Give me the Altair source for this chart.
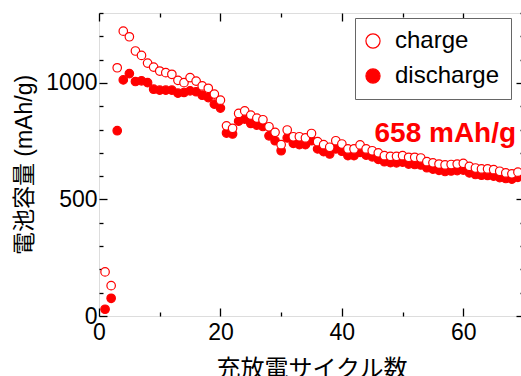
import altair as alt
import pandas as pd

cycles = list(range(1, 70))
charge = [189, 130, 1065, 1222, 1198, 1137, 1118, 1085, 1068, 1051,
          1044, 1037, 1011, 1001, 1023, 1008, 987, 977, 952, 926,
          816, 805, 869, 880, 862, 849, 842, 812, 788, 735,
          798, 769, 769, 764, 783, 748, 735, 724, 752, 738,
          717, 717, 734, 717, 709, 700, 688, 685, 685, 688,
          681, 681, 678, 662, 657, 652, 648, 650, 652, 655,
          642, 635, 631, 631, 628, 621, 614, 610, 617]
discharge = [29, 76, 795, 1013, 1040, 1006, 1009, 1001, 973, 969,
             969, 969, 956, 959, 966, 962, 947, 937, 909, 892,
             785, 781, 836, 845, 826, 819, 813, 773, 752, 709,
             764, 741, 735, 735, 752, 717, 705, 695, 717, 707,
             688, 688, 702, 690, 683, 672, 662, 658, 657, 660,
             652, 650, 648, 636, 630, 625, 620, 622, 624, 626,
             614, 607, 604, 603, 600, 594, 590, 587, 595]
series_names = ["charge", "discharge"]
x_ticks = list(range(0, 71, 10))
y_ticks = list(range(0, 1301, 100))
annotation_text = ["658 mAh/g"]
annotation_cycle = [68.7]
annotation_capacity = [782]

n = len(cycles)
df = pd.DataFrame({
    "cycle": cycles + cycles,
    "capacity": discharge + charge,
    "series": ["discharge"] * n + ["charge"] * n,
})
ann = pd.DataFrame({"cycle": annotation_cycle, "capacity": annotation_capacity,
                    "text": annotation_text})

FONT = "Liberation Sans, Arial, Noto Sans CJK JP, sans-serif"
RED = "#ff0000"
xscale = alt.Scale(domain=[0, 70], nice=False, zero=True)
yscale = alt.Scale(domain=[0, 1300], nice=False, zero=True)

x_tick = {"condition": {"test": "datum.value % 20 === 0", "value": -8}, "value": -4}
y_tick = {"condition": {"test": "datum.value % 500 === 0", "value": -8}, "value": -4}

legend = alt.Legend(
    title=None, orient="none", legendX=256, legendY=5,
    labelFont=FONT, labelFontSize=24, labelColor="black",
    labelExpr="datum.label + ' '",
    symbolSize=200, symbolStrokeWidth=1.2, symbolType="circle",
    symbolOffset=-5, labelOffset=10, rowPadding=11, padding=11,
    strokeColor="#666666", fillColor="white",
)

points = alt.Chart(df).mark_point(shape="circle", size=72, strokeWidth=1.2, opacity=1).encode(
    x=alt.X("cycle:Q", scale=xscale, axis=alt.Axis(
        orient="bottom", values=x_ticks, format="d", labelFlush=False,
        labelExpr="datum.value % 20 === 0 ? datum.label : ''",
        tickSize=x_tick, tickWidth=1.3, tickColor="black", domain=False, grid=False,
        labelFont=FONT, labelFontSize=23, labelColor="black", labelPadding=13,
        title="充放電サイクル数", titleFont=FONT, titleFontSize=24,
        titleFontWeight="normal", titleColor="black", titlePadding=13)),
    y=alt.Y("capacity:Q", scale=yscale, axis=alt.Axis(
        orient="left", values=y_ticks, format="d", labelFlush=False,
        labelExpr="datum.value % 500 === 0 ? datum.label : ''",
        tickSize=y_tick, tickWidth=1.3, tickColor="black", domain=False, grid=False,
        labelFont=FONT, labelFontSize=23, labelColor="black", labelPadding=10,
        title="電池容量 (mAh/g)", titleFont=FONT, titleFontSize=23,
        titleFontWeight="normal", titleColor="black", titlePadding=9)),
    stroke=alt.Stroke("series:N", scale=alt.Scale(domain=series_names, range=[RED, RED]),
                      legend=legend),
    fill=alt.Fill("series:N", scale=alt.Scale(domain=series_names, range=["white", RED]),
                  legend=legend),
)

text = alt.Chart(ann).mark_text(
    align="right", baseline="middle", font=FONT, fontSize=28, fontWeight="bold", color=RED
).encode(
    x=alt.X("cycle:Q", scale=xscale, axis=alt.Axis(
        orient="top", values=x_ticks, labels=False, title=None,
        tickSize=x_tick, tickWidth=1.3, tickColor="black", domain=False, grid=False)),
    y=alt.Y("capacity:Q", scale=yscale, axis=alt.Axis(
        orient="right", values=y_ticks, labels=False, title=None,
        tickSize=y_tick, tickWidth=1.3, tickColor="black", domain=False, grid=False)),
    text="text:N",
)

chart = alt.layer(points, text).resolve_axis(x="independent", y="independent").properties(
    width=425, height=303,
    autosize=alt.AutoSizeParams(type="none"),
    padding={"left": 99, "top": 13, "right": -3, "bottom": 60},
).configure_view(stroke="black", strokeWidth=1.6).configure(background="white")

chart.save("out.html", embed_options={"renderer": "svg", "actions": False})
